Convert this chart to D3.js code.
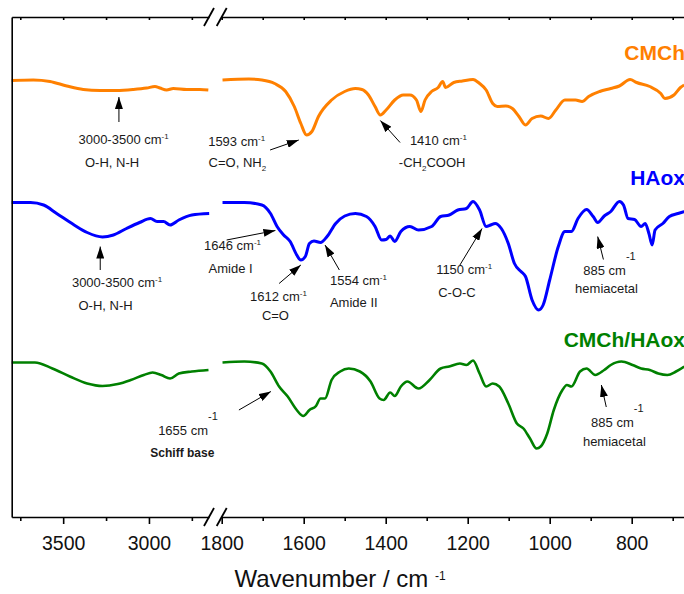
<!DOCTYPE html>
<html>
<head>
<meta charset="utf-8">
<title>FTIR CMCh / HAox</title>
<style>
  body { margin: 0; background: #fff; }
  svg { display: block; font-family: "Liberation Sans", Arial, sans-serif; }
</style>
</head>
<body>
<script src="https://cdn.jsdelivr.net/npm/d3@7"></script>
<script>
// spectra: wavenumber (cm-1) and transmittance (a.u., stacked)
var cmchLeftWn  = [3800, 3674, 3577, 3479, 3383, 3285, 3188, 3091, 3013, 2965, 2936, 2897, 2858, 2780, 2703, 2654];
var cmchLeftT   = [87.3, 87.4, 87.1, 86.2, 85.5, 85.3, 85.3, 85.5, 85.8, 86.1, 85.8, 85.4, 85.7, 85.5, 85.5, 85.4];
var cmchRightWn = [1798, 1734, 1702, 1671, 1644, 1623, 1607, 1593, 1580, 1564, 1532, 1500, 1474, 1458, 1442, 1426, 1413, 1399, 1378, 1357, 1341, 1325, 1314, 1304, 1288, 1272, 1261, 1254, 1234, 1213, 1187, 1171, 1155, 1139, 1128, 1107, 1091, 1075, 1059, 1043, 1022, 1003, 985, 963, 937, 921, 905, 878, 851, 830, 804, 788, 756, 729, 719, 697, 681, 672];
var cmchRightT  = [87.4, 87.6, 87.4, 86.7, 85.1, 82.1, 78.7, 76.4, 77.1, 80.1, 83.4, 85.1, 85.7, 85.5, 84.4, 82.1, 80.4, 81.4, 83.4, 84.4, 84.4, 83.4, 81.1, 83.4, 85.1, 85.9, 87.1, 85.9, 86.9, 87.2, 87.5, 86.7, 85.4, 82.7, 82.1, 82.2, 81.7, 80.1, 78.4, 79.7, 80.2, 79.7, 81.4, 83.4, 83.4, 83.1, 84.1, 85.1, 85.7, 86.2, 87.5, 86.9, 86.1, 84.7, 83.7, 84.4, 85.9, 86.4];

var haoxLeftWn  = [3800, 3690, 3614, 3538, 3436, 3360, 3271, 3207, 3131, 3055, 2991, 2953, 2915, 2877, 2826, 2750, 2649];
var haoxLeftT   = [62.9, 62.9, 62.4, 60.7, 58.4, 56.9, 56.0, 56.4, 57.7, 58.9, 59.7, 59.1, 59.1, 58.4, 59.4, 60.4, 60.7];
var haoxRightWn = [1798, 1745, 1702, 1681, 1665, 1649, 1633, 1617, 1607, 1596, 1586, 1575, 1559, 1543, 1522, 1500, 1474, 1447, 1426, 1410, 1399, 1389, 1378, 1363, 1341, 1320, 1288, 1266, 1245, 1224, 1203, 1187, 1171, 1155, 1144, 1133, 1118, 1101, 1086, 1070, 1059, 1043, 1027, 1016, 1000, 979, 963, 947, 931, 910, 894, 883, 867, 851, 830, 820, 809, 793, 777, 767, 758, 750, 743, 724, 708, 687, 672];
var haoxRightT  = [62.9, 62.9, 62.4, 60.7, 58.1, 56.4, 55.1, 52.4, 51.4, 52.1, 54.7, 55.2, 54.9, 56.1, 58.7, 60.2, 60.7, 60.1, 58.1, 55.4, 55.5, 56.2, 55.1, 57.1, 58.1, 57.4, 58.1, 60.1, 60.4, 61.4, 61.7, 63.1, 61.4, 58.1, 58.4, 58.7, 57.7, 54.7, 50.7, 49.1, 48.1, 43.4, 41.4, 42.4, 47.4, 54.1, 57.1, 57.1, 59.7, 61.5, 60.1, 58.9, 60.2, 61.1, 63.1, 62.4, 59.7, 59.5, 58.1, 58.7, 56.7, 54.4, 57.4, 58.7, 60.1, 60.7, 61.1];

var mixLeftWn  = [3800, 3665, 3563, 3461, 3360, 3271, 3182, 3106, 3030, 2979, 2928, 2877, 2826, 2750, 2653];
var mixLeftT   = [30.9, 30.9, 29.7, 28.1, 26.7, 26.2, 26.6, 27.4, 28.4, 28.9, 28.4, 27.7, 28.7, 29.1, 29.4];
var mixRightWn = [1798, 1745, 1702, 1681, 1660, 1639, 1617, 1601, 1586, 1570, 1559, 1548, 1532, 1511, 1490, 1463, 1437, 1415, 1405, 1389, 1378, 1363, 1347, 1320, 1293, 1266, 1245, 1219, 1203, 1187, 1171, 1155, 1139, 1123, 1101, 1080, 1064, 1048, 1032, 1022, 1006, 990, 969, 958, 947, 926, 910, 889, 867, 851, 825, 798, 777, 756, 735, 713, 692, 672];
var mixRightT  = [30.9, 31.1, 30.7, 29.1, 26.1, 24.1, 21.4, 20.2, 21.4, 22.2, 23.7, 23.7, 27.4, 29.1, 29.7, 29.1, 27.1, 23.7, 23.4, 24.9, 24.2, 26.1, 27.1, 25.7, 27.4, 29.7, 30.1, 30.7, 30.4, 31.3, 28.7, 26.1, 26.7, 26.1, 22.7, 18.7, 17.7, 15.7, 13.7, 14.1, 16.7, 21.4, 25.4, 26.4, 26.1, 29.1, 29.7, 28.4, 29.4, 30.4, 31.1, 30.4, 29.7, 29.4, 28.7, 28.4, 29.1, 30.1];

var seriesNames  = ["CMCh", "HAox", "CMCh/HAox"];
var seriesLabelT = [91.4, 66.4, 34.1];

var leftMajor  = [3500, 3000];
var leftMinor  = [3750, 3250, 2750];
var rightMajor = [1800, 1600, 1400, 1200, 1000, 800];
var rightMinor = [1700, 1500, 1300, 1100, 900, 700];

// arrows: [tail wn, tail T, tip wn, tip T]
var arrows = [
  [3175, 79.0, 3175, 84.0],
  [1682, 73.4, 1612, 75.4],
  [1365, 74.9, 1413, 79.3],
  [3284, 49.4, 3284, 54.1],
  [1788, 55.4, 1669, 57.3],
  [1660, 46.7, 1607, 50.4],
  [1513, 49.4, 1548, 54.4],
  [1219, 50.4, 1165, 57.7],
  [869, 51.5, 883, 56.1],
  [1758, 21.4, 1680, 25.1],
  [862, 22.0, 874, 26.4]
];

// notes: "|^" superscript, "|^^" raised exponent, "|_" subscript
var noteWn   = [3411, 3373, 1833, 1832, 1341, 1368, 3449, 3411, 1843, 1832, 1731, 1702, 1536, 1536, 1277, 1272, 918, 938, 1955, 1974, 899, 919];
var noteT    = [74.7, 70.1, 74.3, 70.1, 74.5, 70.1, 46.1, 41.4, 53.4, 48.9, 43.3, 39.4, 46.4, 42.1, 48.6, 44.1, 48.4, 44.9, 16.4, 12.1, 18.1, 14.2];
var noteText = ["3000-3500 cm|^-1", "O-H, N-H", "1593 cm|^-1", "C=O, NH|_2", "1410 cm|^-1", "-CH|_2|COOH",
                "3000-3500 cm|^-1", "O-H, N-H", "1646 cm|^-1", "Amide I", "1612 cm|^-1", "C=O",
                "1554 cm|^-1", "Amide II", "1150 cm|^-1", "C-O-C", "885 cm|^^-1", "hemiacetal",
                "1655 cm|^^-1", "Schiff base", "885 cm|^^-1", "hemiacetal"];

var width = 684, height = 594;
var svg = d3.select("body").append("svg")
    .attr("width", width)
    .attr("height", height);

var top0 = 17, bottom0 = 517;
var xl = d3.scaleLinear().domain([3800, 2650]).range([11.7, 209]);
var xr = d3.scaleLinear().domain([1800, 660]).range([221.7, 689.1]);
var y = d3.scaleLinear().domain([0, 100]).range([bottom0, top0]);

function px(w) { return w > 2200 ? xl(w) : xr(w); }

// curves
var colors = ["#ff8000", "#0000ff", "#008000"];
var widths = [3, 3, 2.6];
var segs = [
  [[cmchLeftWn, cmchLeftT, xl], [cmchRightWn, cmchRightT, xr]],
  [[haoxLeftWn, haoxLeftT, xl], [haoxRightWn, haoxRightT, xr]],
  [[mixLeftWn, mixLeftT, xl], [mixRightWn, mixRightT, xr]]
];
segs.forEach(function (s, i) {
    s.forEach(function (part) {
        var sx = part[2];
        var pts = part[0].map(function (w, j) { return [w, part[1][j]]; });
        var line = d3.line()
            .x(function (d) { return sx(d[0]); })
            .y(function (d) { return y(d[1]); })
            .curve(d3.curveMonotoneX);
        svg.append("path")
            .attr("d", line(pts))
            .attr("fill", "none")
            .attr("stroke", colors[i])
            .attr("stroke-width", widths[i])
            .attr("stroke-linejoin", "round");
    });
});

// axes
function styleAxis(g) {
    g.select(".domain").attr("stroke", "#000").attr("stroke-width", 1.6);
    g.selectAll(".tick line").attr("stroke", "#000").attr("stroke-width", 1.6);
    g.selectAll(".tick text").attr("font-size", 19.5).attr("fill", "#111")
        .attr("font-family", "'Liberation Sans', Arial, sans-serif");
}
[[xl, leftMajor, leftMinor], [xr, rightMajor, rightMinor]].forEach(function (a) {
    var gb = svg.append("g").attr("transform", "translate(0," + bottom0 + ")")
        .call(d3.axisBottom(a[0]).tickValues(a[1]).tickSize(7).tickSizeOuter(0).tickPadding(12).tickFormat(d3.format("d")));
    styleAxis(gb);
    var gm = svg.append("g").attr("transform", "translate(0," + bottom0 + ")")
        .call(d3.axisBottom(a[0]).tickValues(a[2]).tickSize(4).tickSizeOuter(0).tickFormat(""));
    styleAxis(gm);
    gm.select(".domain").remove();
    var gt = svg.append("g").attr("transform", "translate(0," + top0 + ")")
        .call(d3.axisTop(a[0]).tickValues(a[1].concat(a[2])).tickSize(-3).tickSizeOuter(0).tickFormat(""));
    styleAxis(gt);
});
var gl = svg.append("g").attr("transform", "translate(" + xl.range()[0] + ",0)")
    .call(d3.axisLeft(y).tickValues([]).tickSizeOuter(0));
styleAxis(gl);

// axis break marks
[top0, bottom0].forEach(function (yy) {
    [xl.range()[1], xr.range()[0]].forEach(function (xx) {
        svg.append("line")
            .attr("x1", xx - 5).attr("y1", yy + 9)
            .attr("x2", xx + 5).attr("y2", yy - 9)
            .attr("stroke", "#000").attr("stroke-width", 1.8);
    });
});

// axis title
var title = svg.append("text")
    .attr("x", 340).attr("y", 587)
    .attr("text-anchor", "middle")
    .attr("font-size", 24).attr("fill", "#111");
title.append("tspan").text("Wavenumber / cm ");
title.append("tspan").attr("dy", -7).attr("font-size", 12).text("-1");

// series names
seriesNames.forEach(function (n, i) {
    svg.append("text")
        .attr("x", 685).attr("y", y(seriesLabelT[i]))
        .attr("text-anchor", "end")
        .attr("font-size", 21).attr("font-weight", "bold")
        .attr("fill", colors[i])
        .text(n);
});

// arrows
svg.append("defs").append("marker")
    .attr("id", "head")
    .attr("markerUnits", "userSpaceOnUse")
    .attr("viewBox", "0 0 12 8")
    .attr("markerWidth", 12).attr("markerHeight", 8)
    .attr("refX", 12).attr("refY", 4)
    .attr("orient", "auto")
    .append("path").attr("d", "M0,0 L12,4 L0,8 Z").attr("fill", "#000");

svg.selectAll("line.arrow")
    .data(arrows)
    .enter()
    .append("line")
    .attr("class", "arrow")
    .attr("x1", function (d) { return px(d[0]); })
    .attr("y1", function (d) { return y(d[1]); })
    .attr("x2", function (d) { return px(d[2]); })
    .attr("y2", function (d) { return y(d[3]); })
    .attr("stroke", "#000")
    .attr("stroke-width", 1)
    .attr("marker-end", "url(#head)");

// notes
noteText.forEach(function (str, i) {
    var t = svg.append("text")
        .attr("x", px(noteWn[i])).attr("y", y(noteT[i]))
        .attr("font-size", 13).attr("fill", "#1a1a1a");
    if (str === "Schiff base") t.attr("font-weight", "bold").attr("font-size", 12);
    var shift = 0;
    str.split("|").forEach(function (p) {
        var target = 0, size = null, s = p;
        if (p.indexOf("^^") === 0) { target = -15; size = 11; s = p.slice(2); }
        else if (p[0] === "^") { target = -5; size = 8; s = p.slice(1); }
        else if (p[0] === "_") { target = 4; size = 8; s = p.slice(1); }
        var ts = t.append("tspan").attr("dy", target - shift).text(s);
        if (size) ts.attr("font-size", size);
        shift = target;
    });
});
</script>
</body>
</html>
